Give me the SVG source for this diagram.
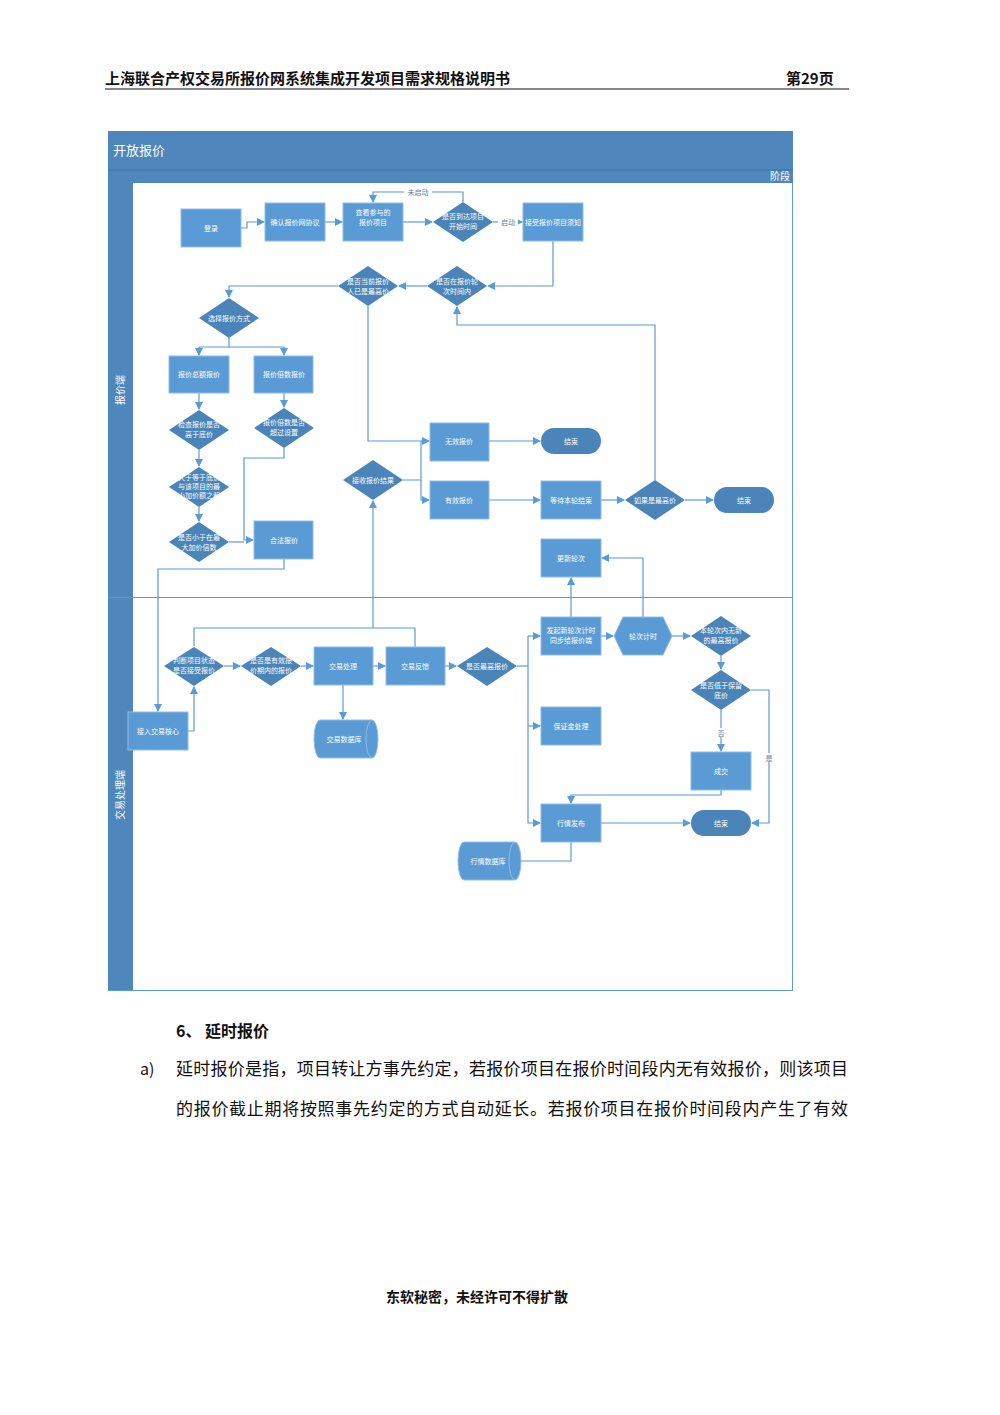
<svg xmlns="http://www.w3.org/2000/svg" width="1000" height="1415" viewBox="0 0 1000 1415">
<defs>
<style>
text{font-family:"Noto Sans CJK SC","Noto Sans",sans-serif;}
.r{fill:#5b9bd5;stroke:#8fbde6;stroke-width:1}
.d{fill:#4a84b8}
.t{fill:#4a84b8}
.n{font-size:7px;fill:#fff;text-anchor:middle}
.c{fill:none;stroke:#5b9bd5;stroke-width:1.2;marker-end:url(#a)}
.l{fill:none;stroke:#5b9bd5;stroke-width:1.2}
.lb{font-size:7px;fill:#5b7fa8;text-anchor:middle}
</style>
<marker id="a" markerWidth="8" markerHeight="8" refX="7" refY="4" orient="auto" markerUnits="userSpaceOnUse"><path d="M0,0 L8,4 L0,8 Z" fill="#5b9bd5"/></marker>
</defs>
<rect width="1000" height="1415" fill="#fff"/>
<g id="page">
<text x="105" y="84" font-size="15" font-weight="bold" fill="#111">上海联合产权交易所报价网系统集成开发项目需求规格说明书</text>
<text x="786" y="84" font-size="15" font-weight="bold" fill="#111">第29页</text>
<line x1="105" y1="89" x2="849" y2="89" stroke="#111" stroke-width="1"/>
</g>
<g id="frame">
<rect x="108.5" y="131.5" width="684" height="859" fill="#fff" stroke="#5b9bd5"/>
<rect x="108" y="131" width="685" height="52" fill="#4f86bb"/>
<line x1="108" y1="170" x2="793" y2="170" stroke="#3f73a6" stroke-width="1"/>
<text x="113" y="155" font-size="13" fill="#fff">开放报价</text>
<text x="790" y="180" font-size="10" fill="#fff" text-anchor="end">阶段</text>
<rect x="108" y="183" width="25" height="807" fill="#4f86bb"/>
<line x1="108" y1="597.5" x2="792" y2="597.5" stroke="#5b9bd5"/>
<text transform="translate(124,390) rotate(-90)" font-size="10" fill="#fff" text-anchor="middle">报价端</text>
<text transform="translate(124,795) rotate(-90)" font-size="10" fill="#fff" text-anchor="middle">交易处理端</text>
</g>
<g id="connectors">
<path class="c" d="M241,228 H247 V222 H264"/>
<path class="c" d="M325,222 H342"/>
<path class="c" d="M403,222 H432"/>
<path class="c" d="M493,222 H522"/>
<path class="c" d="M463,202 V192 H373 V202"/>
<path class="c" d="M553,241 V286 H488"/>
<path class="c" d="M427,286 H399"/>
<path class="c" d="M338,286 H229 V297"/>
<path class="l" d="M229,338 V347 H199"/>
<path class="c" d="M199,347 V355"/>
<path class="c" d="M229,347 H284 V355"/>
<path class="c" d="M199,393 V409"/>
<path class="c" d="M284,393 V407"/>
<path class="c" d="M199,450 V466"/>
<path class="c" d="M199,507 V521"/>
<path class="c" d="M284,448 V458 H244 V540 H253"/>
<path class="l" d="M229,542 H244"/>
<path class="c" d="M284,559 V569 H158 V711"/>
<path class="c" d="M188,731 H194 V687"/>
<path class="l" d="M368,306 V441 H421"/>
<path class="c" d="M421,441 H429"/>
<path class="l" d="M403,480 H421 V441"/>
<path class="c" d="M421,480 V500 H429"/>
<path class="c" d="M489,441 H540"/>
<path class="c" d="M489,500 H540"/>
<path class="c" d="M601,500 H624"/>
<path class="c" d="M685,500 H713"/>
<path class="c" d="M655,480 V325 H457 V307"/>
<path class="l" d="M194,646 V628 H415 V647"/>
<path class="c" d="M373,628 V501"/>
<path class="c" d="M224,666 H240"/>
<path class="c" d="M301,666 H313"/>
<path class="c" d="M373,666 H385"/>
<path class="c" d="M445,666 H456"/>
<path class="c" d="M343,685 V719"/>
<path class="l" d="M517,666 H528"/>
<path class="c" d="M528,636 H540"/>
<path class="c" d="M528,636 V823 H540"/>
<path class="c" d="M528,726 H540"/>
<path class="c" d="M571,617 V578"/>
<path class="c" d="M643,617 V558 H602"/>
<path class="c" d="M601,636 H613"/>
<path class="c" d="M672,636 H690"/>
<path class="c" d="M721,656 V669"/>
<path class="c" d="M721,710 V751"/>
<path class="c" d="M751,690 H769 V823 H752"/>
<path class="c" d="M721,790 V795 H571 V803"/>
<path class="c" d="M601,823 H690"/>
<path class="l" d="M571,842 V861 H521"/>
<rect x="404" y="188" width="28" height="8" fill="#fff"/>
<text class="lb" x="418" y="195">未启动</text>
<rect x="498" y="218" width="20" height="8" fill="#fff"/>
<text class="lb" x="508" y="225">启动</text>
<rect x="716" y="728" width="10" height="9" fill="#fff"/>
<text class="lb" x="721" y="736">否</text>
<rect x="764" y="753" width="10" height="9" fill="#fff"/>
<text class="lb" x="769" y="761">是</text>
</g>
<g id="n_login"><rect class="r" x="181" y="209" width="60" height="38"/><text class="n" x="211" y="231">登录</text></g>
<g id="n_confirm"><rect class="r" x="265" y="203" width="60" height="38"/><text class="n" x="295" y="225">确认报价网协议</text></g>
<g id="n_view"><rect class="r" x="343" y="203" width="60" height="38"/><text class="n" x="373" y="215">查看参与的</text><text class="n" x="373" y="225">报价项目</text></g>
<g id="n_start"><polygon class="d" points="463,202 493,222 463,242 433,222"/><text class="n" x="463" y="219">是否到达项目</text><text class="n" x="463" y="229">开始时间</text></g>
<g id="n_notice"><rect class="r" x="523" y="203" width="60" height="38"/><text class="n" x="553" y="225">接受报价项目须知</text></g>
<g id="n_inround"><polygon class="d" points="457,266 487,286 457,306 427,286"/><text class="n" x="457" y="284">是否在报价轮</text><text class="n" x="457" y="294">次时间内</text></g>
<g id="n_highest"><polygon class="d" points="368,266 398,286 368,306 338,286"/><text class="n" x="368" y="284">是否当前报价</text><text class="n" x="368" y="294">人已是最高价</text></g>
<g id="n_choose"><polygon class="d" points="229,298 259,318 229,338 199,318"/><text class="n" x="229" y="321">选择报价方式</text></g>
<g id="n_total"><rect class="r" x="169" y="356" width="60" height="37"/><text class="n" x="199" y="377">报价总额报价</text></g>
<g id="n_multi"><rect class="r" x="254" y="356" width="59" height="37"/><text class="n" x="284" y="377">报价倍数报价</text></g>
<g id="n_chk1"><polygon class="d" points="199,410 229,430 199,450 169,430"/><text class="n" x="199" y="427">检查报价是否</text><text class="n" x="199" y="437">高于底价</text></g>
<g id="n_chk2"><polygon class="d" points="284,408 314,428 284,448 254,428"/><text class="n" x="284" y="425">报价倍数是否</text><text class="n" x="284" y="435">超过设置</text></g>
<g id="n_chk3"><polygon class="d" points="199,467 229,487 199,507 169,487"/><text class="n" x="199" y="480">大于等于底价</text><text class="n" x="199" y="489">与该项目的最</text><text class="n" x="199" y="498">小加价额之和</text></g>
<g id="n_chk4"><polygon class="d" points="199,522 229,542 199,562 169,542"/><text class="n" x="199" y="540">是否小于在最</text><text class="n" x="199" y="550">大加价倍数</text></g>
<g id="n_legal"><rect class="r" x="254" y="521" width="59" height="38"/><text class="n" x="284" y="543">合法报价</text></g>
<g id="n_recv"><polygon class="d" points="373,460 403,480 373,500 343,480"/><text class="n" x="373" y="483">接收报价结果</text></g>
<g id="n_invalid"><rect class="r" x="430" y="423" width="59" height="38"/><text class="n" x="459" y="444">无效报价</text></g>
<g id="n_valid"><rect class="r" x="430" y="481" width="59" height="38"/><text class="n" x="459" y="503">有效报价</text></g>
<g id="n_end1"><rect class="t" x="541" y="428" width="60" height="26" rx="13"/><text class="n" x="571" y="444">结束</text></g>
<g id="n_wait"><rect class="r" x="541" y="481" width="60" height="38"/><text class="n" x="571" y="503">等待本轮结束</text></g>
<g id="n_ifhigh"><polygon class="d" points="655,480 685,500 655,520 625,500"/><text class="n" x="655" y="503">如果是最高价</text></g>
<g id="n_end2"><rect class="t" x="714" y="487" width="60" height="26" rx="13"/><text class="n" x="744" y="503">结束</text></g>
<g id="n_update"><rect class="r" x="541" y="539" width="60" height="38"/><text class="n" x="571" y="561">更新轮次</text></g>
<g id="n_access"><rect class="r" x="128" y="712" width="60" height="38"/><text class="n" x="158" y="734">接入交易核心</text></g>
<g id="n_judge"><polygon class="d" points="194,647 224,666 194,686 164,666"/><text class="n" x="194" y="663">判断项目状态</text><text class="n" x="194" y="673">是否接受报价</text></g>
<g id="n_period"><polygon class="d" points="271,647 301,666 271,686 241,666"/><text class="n" x="271" y="663">是否是有效报</text><text class="n" x="271" y="673">价期内的报价</text></g>
<g id="n_proc"><rect class="r" x="314" y="647" width="59" height="38"/><text class="n" x="343" y="669">交易处理</text></g>
<g id="n_feedback"><rect class="r" x="386" y="647" width="59" height="38"/><text class="n" x="415" y="669">交易反馈</text></g>
<g id="n_maxbid"><polygon class="d" points="487,647 517,666 487,686 457,666"/><text class="n" x="487" y="669">是否最高报价</text></g>
<g id="n_tdb"><path class="r" d="M320,720 H372 A6,19 0 0 1 372,758 H320 A6,19 0 0 1 320,720 Z"/><path d="M372,720 A6,19 0 0 0 372,758" fill="none" stroke="#8fbde6"/><text class="n" x="344" y="742">交易数据库</text></g>
<g id="n_newround"><rect class="r" x="541" y="617" width="60" height="38"/><text class="n" x="571" y="633">发起新轮次计时</text><text class="n" x="571" y="643">同步给报价端</text></g>
<g id="n_timer"><polygon class="r" points="623,617 663,617 672,636 663,655 623,655 614,636"/><text class="n" x="643" y="639">轮次计时</text></g>
<g id="n_nonew"><polygon class="d" points="721,616 751,636 721,656 691,636"/><text class="n" x="721" y="633">本轮次内无新</text><text class="n" x="721" y="643">的最高报价</text></g>
<g id="n_reserve"><polygon class="d" points="721,670 751,690 721,710 691,690"/><text class="n" x="721" y="688">是否低于保留</text><text class="n" x="721" y="698">底价</text></g>
<g id="n_deal"><rect class="r" x="691" y="752" width="60" height="38"/><text class="n" x="721" y="774">成交</text></g>
<g id="n_deposit"><rect class="r" x="541" y="707" width="60" height="38"/><text class="n" x="571" y="729">保证金处理</text></g>
<g id="n_market"><rect class="r" x="541" y="804" width="60" height="38"/><text class="n" x="571" y="826">行情发布</text></g>
<g id="n_end3"><rect class="t" x="691" y="810" width="60" height="26" rx="13"/><text class="n" x="721" y="826">结束</text></g>
<g id="n_mdb"><path class="r" d="M464,842 H515 A6,19 0 0 1 515,880 H464 A6,19 0 0 1 464,842 Z"/><path d="M515,842 A6,19 0 0 0 515,880" fill="none" stroke="#8fbde6"/><text class="n" x="488" y="864">行情数据库</text></g>
<g id="body">
<text x="176" y="1037" font-size="16" font-weight="bold" fill="#111">6、  延时报价</text>
<text x="140" y="1075" font-size="16" fill="#111">a)</text>
<text x="176" y="1075" font-size="17" fill="#111" textLength="672">延时报价是指，项目转让方事先约定，若报价项目在报价时间段内无有效报价，则该项目</text>
<text x="176" y="1115" font-size="17" fill="#111" textLength="672">的报价截止期将按照事先约定的方式自动延长。若报价项目在报价时间段内产生了有效</text>
<text x="477" y="1302" font-size="14" font-weight="bold" fill="#111" text-anchor="middle">东软秘密，未经许可不得扩散</text>
</g>
</svg>
